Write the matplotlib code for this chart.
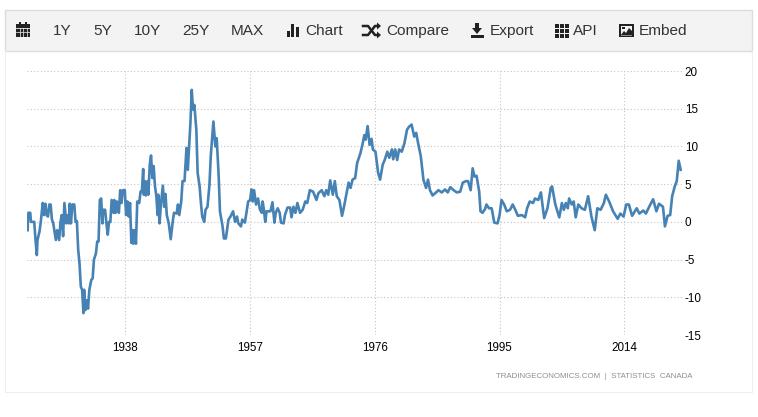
import matplotlib
matplotlib.use("Agg")
import matplotlib.pyplot as plt
from matplotlib.patches import Rectangle, Polygon

plt.rcParams['font.family'] = ['Liberation Sans', 'DejaVu Sans']
plt.rcParams['axes.unicode_minus'] = False

years = [
	1923.1,1923.2,1923.5,1923.6,1924.1,1924.3,1924.5,1924.6,1924.9,1925.1,1925.4,1925.6,1925.8,1926.0,1926.2,1926.4,1926.6,1926.8,1927.0,1927.2,
	1927.4,1927.6,1927.9,1928.1,1928.3,1928.5,1928.7,1929.0,1929.2,1929.4,1929.5,1929.7,1929.9,1930.2,1930.4,1930.6,1930.8,1931.0,1931.2,1931.4,
	1931.6,1931.7,1931.9,1932.1,1932.3,1932.5,1932.8,1933.0,1933.2,1933.5,1933.7,1933.9,1934.1,1934.3,1934.5,1934.6,1934.9,1935.1,1935.3,1935.5,
	1935.7,1935.9,1936.2,1936.3,1936.5,1936.7,1937.0,1937.2,1937.4,1937.6,1937.9,1938.1,1938.3,1938.5,1938.7,1938.9,1939.1,1939.2,1939.4,1939.6,
	1939.8,1940.1,1940.3,1940.5,1940.7,1940.8,1941.0,1941.1,1941.4,1941.5,1941.7,1941.9,1942.1,1942.3,1942.5,1942.7,1942.9,1943.0,1943.2,1943.4,
	1943.7,1943.9,1944.1,1944.3,1944.6,1944.9,1945.2,1945.4,1945.8,1946.0,1946.2,1946.5,1946.7,1947.0,1947.3,1947.5,1947.7,1947.9,1948.1,1948.3,
	1948.5,1948.8,1949.0,1949.3,1949.5,1949.7,1950.0,1950.2,1950.5,1950.8,1951.0,1951.4,1951.7,1951.9,1952.2,1952.4,1952.8,1953.0,1953.3,1953.7,
	1954.0,1954.4,1954.7,1955.0,1955.2,1955.6,1955.8,1956.2,1956.5,1956.7,1957.0,1957.2,1957.4,1957.6,1957.9,1958.2,1958.5,1958.8,1958.9,1959.1,
	1959.3,1959.5,1959.8,1960.1,1960.4,1960.7,1960.9,1961.2,1961.5,1961.7,1962.1,1962.3,1962.7,1963.1,1963.3,1963.6,1963.9,1964.2,1964.6,1965.0,
	1965.4,1965.7,1966.1,1966.6,1967.1,1967.4,1967.9,1968.3,1968.6,1968.9,1969.2,1969.6,1969.9,1970.2,1970.6,1971.0,1971.3,1971.7,1972.0,1972.3,
	1972.6,1973.0,1973.3,1973.8,1974.1,1974.4,1974.6,1974.9,1975.2,1975.5,1975.7,1976.1,1976.5,1976.8,1977.2,1977.5,1977.9,1978.2,1978.6,1978.8,
	1979.1,1979.4,1979.7,1980.1,1980.5,1980.9,1981.2,1981.6,1982.0,1982.3,1982.6,1983.0,1983.4,1983.8,1984.1,1984.4,1984.8,1985.2,1985.7,1986.2,
	1986.7,1987.1,1987.5,1988.0,1988.5,1989.0,1989.4,1989.9,1990.2,1990.6,1990.9,1991.2,1991.5,1991.9,1992.1,1992.4,1992.8,1993.0,1993.4,1993.8,
	1994.2,1994.7,1995.0,1995.3,1995.7,1996.1,1996.6,1997.0,1997.4,1997.8,1998.4,1998.9,1999.2,1999.6,2000.1,2000.4,2000.9,2001.3,2001.8,2002.3,
	2002.8,2003.0,2003.5,2004.1,2004.5,2004.8,2005.1,2005.4,2005.6,2006.0,2006.3,2006.6,2007.0,2007.5,2008.0,2008.5,2009.0,2009.5,2009.9,2010.4,
	2010.9,2011.2,2011.7,2012.3,2013.0,2013.4,2013.9,2014.3,2014.7,2015.2,2015.9,2016.3,2016.9,2017.3,2017.8,2018.4,2018.9,2019.3,2019.9,2020.2,
	2020.6,2021.0,2021.3,2021.7,2022.0,2022.3,2022.6,
]
inflation = [
	-1.1,1.2,1.2,0.0,0.0,-2.4,-4.4,-2.4,-1.3,0.0,2.5,0.9,2.4,0.9,0.7,2.3,2.3,0.3,-0.2,-1.3,
	-2.4,-1.1,-2.4,0.0,0.9,-1.9,2.5,-0.2,0.9,-0.2,2.4,-0.2,2.3,2.3,0.0,0.1,-3.7,-5.5,-8.6,-9.0,
	-12.1,-9.0,-11.7,-10.4,-11.5,-9.0,-7.7,-7.5,-5.0,-4.2,-2.6,-2.6,2.9,3.1,-0.2,1.6,1.6,-0.2,-1.7,0.0,
	0.0,2.9,1.2,2.9,1.2,2.7,1.2,4.2,2.5,4.2,4.2,0.9,2.7,0.7,2.5,-2.8,-1.1,-2.9,-1.1,-2.9,
	2.7,2.5,4.0,4.0,7.0,3.6,5.4,3.5,5.4,3.6,7.6,8.8,5.8,7.4,4.7,3.5,0.9,3.6,-0.2,2.3,
	4.8,2.0,3.7,0.9,-0.2,-2.3,0.0,1.2,1.1,2.3,0.9,2.7,5.4,5.4,9.8,6.9,10.0,13.1,17.5,14.9,
	15.5,12.2,6.5,4.7,2.5,0.7,0.0,1.6,2.0,4.9,8.7,13.3,10.0,11.1,6.2,1.4,-0.6,-2.2,-2.2,0.3,
	0.7,1.4,0.0,0.7,-0.2,-0.6,0.3,-0.1,1.6,2.7,2.9,4.3,2.7,4.2,2.3,3.1,1.6,1.2,2.7,1.6,
	0.0,1.4,1.4,1.4,2.6,-0.1,1.2,1.8,1.2,-0.1,-0.2,0.9,1.9,1.9,0.6,2.0,1.2,2.5,1.2,1.6,
	2.7,2.5,4.2,4.0,2.9,3.8,4.2,3.4,4.2,3.6,5.5,3.6,5.4,3.4,2.9,0.8,2.0,3.8,5.2,4.5,
	5.6,5.8,7.8,9.1,10.2,11.5,10.9,12.7,10.2,11.0,9.6,9.3,6.5,5.6,7.6,8.2,9.3,8.5,9.6,8.3,
	9.6,8.2,9.6,9.3,10.4,12.2,12.6,12.9,11.3,11.8,10.4,8.7,5.6,4.5,5.6,4.2,3.5,3.8,4.2,3.9,
	4.3,3.9,4.6,4.2,3.9,4.0,5.2,5.4,5.4,4.2,7.1,6.0,6.1,4.0,1.4,1.2,1.7,2.3,1.8,1.8,
	-0.1,-0.2,0.9,2.9,2.3,1.4,1.6,2.3,1.6,0.8,0.9,0.6,1.8,2.7,2.5,3.1,2.9,3.9,0.5,1.8,
	4.5,4.7,2.3,0.6,2.5,1.6,2.5,1.8,3.1,2.3,2.7,0.6,2.3,1.8,1.6,3.4,0.7,-1.1,1.8,1.6,
	2.5,3.6,2.7,1.4,0.4,1.1,0.7,2.3,2.3,0.8,1.8,1.1,1.5,1.1,2.0,3.0,1.4,2.4,2.0,-0.6,
	0.8,0.9,3.4,4.7,5.4,8.1,6.9,
]
year_ticks = [1938, 1957, 1976, 1995, 2014]
value_ticks = [-15, -10, -5, 0, 5, 10, 15, 20]
toolbar_labels = ["1Y", "5Y", "10Y", "25Y", "MAX", "Chart", "Compare", "Export", "API", "Embed"]
toolbar_x = [53, 93, 134, 182, 231, 305, 386, 490, 573, 639]

W, H = 758, 417
fig = plt.figure(figsize=(W/100, H/100), dpi=100)

# overlay in pixels, for the toolbar and the panel border
ov = fig.add_axes([0, 0, 1, 1])
ov.set_xlim(0, W)
ov.set_ylim(H, 0)
ov.axis('off')

ov.plot([5, 5, 752, 752], [51, 392, 392, 51], color='#eeeeee', lw=0.8)
ov.add_patch(Rectangle((5, 9.5), 747, 41.5, fc='#f3f3f3', ec='#dddddd', lw=1))

for label, x in zip(toolbar_labels, toolbar_x):
	ov.text(x, 31, label, fontsize=11.1, color='#333333', va='center', ha='left')

ic = '#222222'
# calendar
ov.add_patch(Rectangle((16, 24), 14, 13, fc=ic, ec='none'))
ov.add_patch(Rectangle((19, 22), 2, 3, fc=ic, ec='none'))
ov.add_patch(Rectangle((25, 22), 2, 3, fc=ic, ec='none'))
ov.plot([16, 30], [28, 28], color='#f3f3f3', lw=0.6)
ov.plot([16, 30], [32, 32], color='#f3f3f3', lw=0.5)
for x in [19.5, 23, 26.5]:
	ov.plot([x, x], [28, 37], color='#f3f3f3', lw=0.5)
# bars
for x, top in [(287, 31), (291, 24), (296, 27)]:
	ov.add_patch(Rectangle((x, top), 3.4, 37-top, fc=ic, ec='none'))
# shuffle
ov.plot([363, 368, 375, 378], [26, 26, 35, 35], color=ic, lw=1.8)
ov.plot([363, 368, 375, 378], [35, 35, 26, 26], color=ic, lw=1.8)
ov.add_patch(Polygon([(377, 22.5), (381, 26), (377, 29.5)], fc=ic, ec='none'))
ov.add_patch(Polygon([(377, 31.5), (381, 35), (377, 38.5)], fc=ic, ec='none'))
# download
ov.add_patch(Rectangle((475, 23), 4, 6, fc=ic, ec='none'))
ov.add_patch(Polygon([(472, 28), (482, 28), (477, 34)], fc=ic, ec='none'))
ov.add_patch(Rectangle((471, 35), 13, 2.5, fc=ic, ec='none'))
# grid
for x in [555, 560, 565]:
	for y in [24, 29, 34]:
		ov.add_patch(Rectangle((x, y), 3.8, 3.8, fc=ic, ec='none'))
# picture
ov.add_patch(Rectangle((619, 24), 14.5, 13, fc=ic, ec='none'))
ov.add_patch(Rectangle((620.5, 25.5), 11.5, 10, fc='#f3f3f3', ec='none'))
ov.add_patch(Polygon([(620.5, 35.5), (624, 31), (626, 33), (629, 28), (632, 31), (632, 35.5)], fc=ic, ec='none'))
ov.add_patch(Rectangle((622, 26.5), 2.5, 2.5, fc=ic, ec='none'))

ov.text(692, 377, "TRADINGECONOMICS.COM  |  STATISTICS  CANADA", fontsize=5.7, color='#8a8f96', ha='right', va='center')

# chart itself
left, right, top, bottom = 27, 682, 71, 335
ax = fig.add_axes([left/W, 1-bottom/H, (right-left)/W, (bottom-top)/H])
ax.patch.set_alpha(0)
ax.plot(years, inflation, color='#4682b4', lw=1.9, solid_joinstyle='round')
ax.set_xlim(1923.0, 2022.8)
ax.set_ylim(-15, 20)
ax.set_xticks(year_ticks)
ax.set_yticks(value_ticks)
ax.yaxis.tick_right()
ax.tick_params(axis='both', length=0, labelsize=8.4, labelcolor='#000000')
ax.tick_params(axis='x', pad=5)
ax.tick_params(axis='y', pad=2)
ax.grid(True, color='#c4c4c4', lw=0.8, linestyle=(0, (1, 2)))
ax.set_axisbelow(True)
for s in ax.spines.values():
	s.set_visible(False)

fig.savefig("out.png", dpi=100)
